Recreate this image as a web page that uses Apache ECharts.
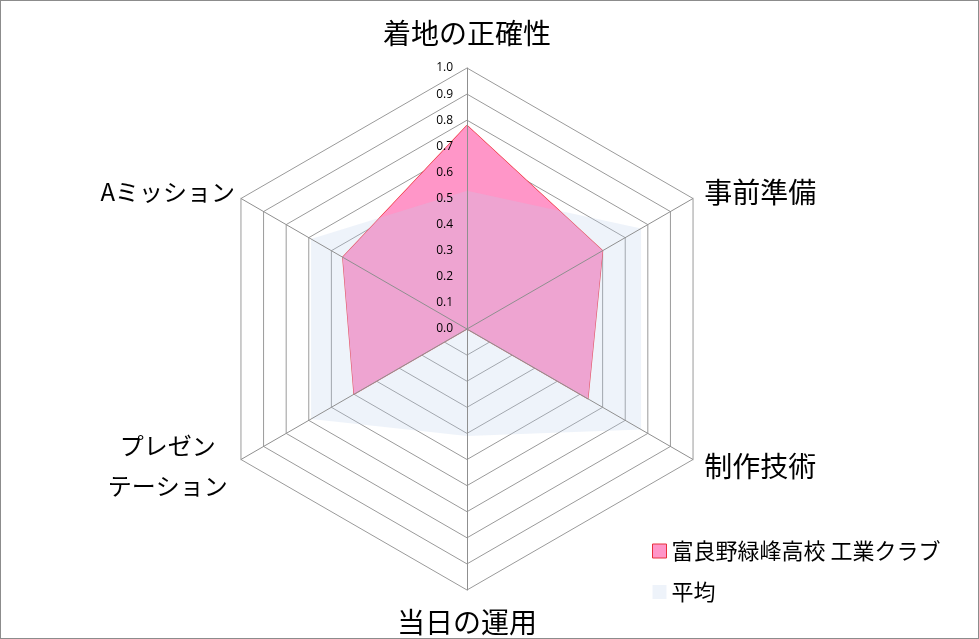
<!DOCTYPE html>
<html>
<head>
<meta charset="utf-8">
<script src="https://cdn.jsdelivr.net/npm/echarts@6/dist/echarts.min.js"></script>
<style>
  html, body { margin: 0; padding: 0; background: #fff; }
  #radar_chart { width: 979px; height: 639px; box-sizing: border-box; border: 1px solid #8c8c8c; }
</style>
</head>
<body>
<div id="radar_chart"></div>
<script>
// indicators in ECharts order (counter-clockwise from the top)
const indicators = ['着地の正確性', 'Aミッション', 'プレゼン\nテーション', '当日の運用', '制作技術', '事前準備'];
const schoolValues = [0.78, 0.55, 0.50, 0.0, 0.535, 0.60];
const averageValues = [0.53, 0.69, 0.69, 0.41, 0.77, 0.77];
const seriesNames = ['富良野緑峰高校 工業クラブ', '平均'];

const fontJP = '"Noto Sans CJK JP", "Noto Sans", sans-serif';
const kanaNames = ['Aミッション', 'プレゼン\nテーション'];

const chartDom = document.getElementById('radar_chart');
const myChart = echarts.init(chartDom);

function makeIndicators(withLabels) {
    return indicators.map(function (name, i) {
        const ind = { name: name, min: 0, max: 1 };
        // top and bottom names sit a little further out
        if (i === 0) ind.nameGap = 21;
        if (i === 3) ind.nameGap = 18;
        if (withLabels && i === 0) {
            ind.axisLabel = {
                show: true,
                color: '#000',
                fontSize: 12,
                margin: 14,
                fontFamily: '"Open Sans", "DejaVu Sans", sans-serif',
                formatter: function (v) { return v.toFixed(1); }
            };
        }
        return ind;
    });
}

const radarBase = {
    center: [466, 328],
    radius: 261,
    shape: 'polygon',
    splitNumber: 10
};

const option = {
    animation: false,
    textStyle: { fontFamily: fontJP },
    legend: {
        orient: 'vertical',
        left: 646,
        top: 534,
        icon: 'rect',
        itemWidth: 14,
        itemHeight: 14,
        itemGap: 19,
        textStyle: { fontSize: 22, color: '#000', fontFamily: fontJP },
        data: [
            { name: seriesNames[0], itemStyle: { color: '#FF96C8', borderColor: '#E8303C', borderWidth: 1 } },
            { name: seriesNames[1], itemStyle: { color: '#EEF3FA', borderWidth: 0 } }
        ]
    },
    radar: [
        // grid rings + names, beneath the areas
        Object.assign({}, radarBase, {
            z: 1,
            nameGap: 13,
            axisName: {
                color: '#000',
                fontSize: 28,
                fontFamily: fontJP,
                formatter: function (name) {
                    if (kanaNames.indexOf(name) < 0) return name;
                    return name.split('\n').map(function (s) { return '{k|' + s + '}'; }).join('\n');
                },
                rich: {
                    k: { width: 124, align: 'center', fontSize: 24, lineHeight: 40, color: '#000', fontFamily: fontJP }
                }
            },
            axisLine: { show: false },
            splitLine: { lineStyle: { color: '#9a9a9a', width: 1 } },
            splitArea: { show: false },
            axisTick: { show: false },
            axisLabel: { show: false },
            indicator: makeIndicators(false)
        }),
        // spokes + tick labels, above the areas
        Object.assign({}, radarBase, {
            z: 5,
            axisName: { show: false },
            axisLine: { lineStyle: { color: '#8f8f8f', width: 1 } },
            splitLine: { show: false },
            splitArea: { show: false },
            axisTick: { show: false },
            axisLabel: { show: false },
            indicator: makeIndicators(true)
        })
    ],
    series: [
        {
            name: seriesNames[0],
            type: 'radar',
            radarIndex: 0,
            z: 2,
            symbol: 'none',
            lineStyle: { color: '#F0303C', width: 1.2 },
            itemStyle: { color: '#FF96C8' },
            areaStyle: { color: '#FF96C8', opacity: 1 },
            data: [{ value: schoolValues, name: seriesNames[0] }]
        },
        {
            name: seriesNames[1],
            type: 'radar',
            radarIndex: 0,
            z: 3,
            symbol: 'none',
            lineStyle: { width: 0, opacity: 0 },
            itemStyle: { color: '#EEF3FA' },
            areaStyle: { color: 'rgb(187,207,235)', opacity: 0.25 },
            data: [{ value: averageValues, name: seriesNames[1] }]
        }
    ]
};

option && myChart.setOption(option);
</script>
</body>
</html>
